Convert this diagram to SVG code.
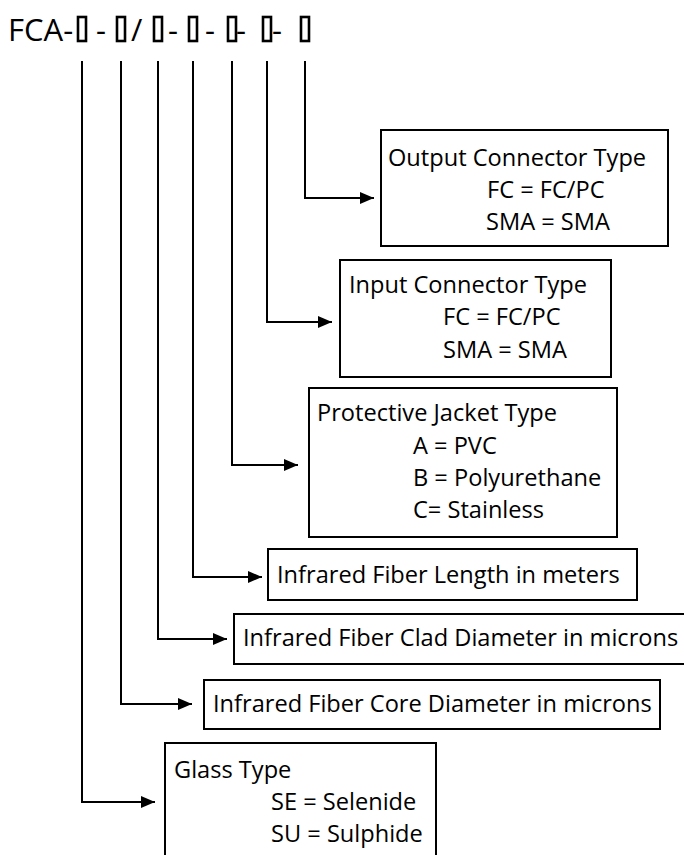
<svg xmlns="http://www.w3.org/2000/svg" width="684" height="855" viewBox="0 0 684 855">
<style>
text{font-family:"Open Sans","Noto Sans","Liberation Sans",sans-serif;fill:#000}
.t{font-size:23.6px}
.h{font-size:31px}
.box{fill:#fff;stroke:#000;stroke-width:2}
.tofu{fill:none;stroke:#000;stroke-width:2.6}
.con{fill:none;stroke:#000;stroke-width:2}
</style>
<defs>
<marker id="arr" markerUnits="userSpaceOnUse" markerWidth="16" markerHeight="14" refX="14" refY="7" orient="auto">
<path d="M0,1 L14,7 L0,13 Z" fill="#000"/>
</marker>
</defs>
<rect width="684" height="855" fill="#fff"/>
<g id="code">
<text class="h" x="8" y="41">FCA-</text>
<rect class="tofu" x="78" y="17" width="8" height="24"/>
<text class="h" x="96" y="41">-</text>
<rect class="tofu" x="117" y="17" width="8" height="24"/>
<text class="h" x="131" y="41">/</text>
<rect class="tofu" x="154" y="17" width="8" height="24"/>
<text class="h" x="168" y="41">-</text>
<rect class="tofu" x="189" y="17" width="8" height="24"/>
<text class="h" x="205" y="41">-</text>
<rect class="tofu" x="228" y="17" width="8" height="24"/>
<text class="h" x="236" y="41">-</text>
<rect class="tofu" x="263" y="17" width="8" height="24"/>
<text class="h" x="272" y="41">-</text>
<rect class="tofu" x="301" y="17" width="8" height="24"/>
</g>
<g id="connectors">
<path class="con" d="M305,61 V198 H374" marker-end="url(#arr)"/>
<path class="con" d="M267,61 V322 H332" marker-end="url(#arr)"/>
<path class="con" d="M232,61 V465 H298" marker-end="url(#arr)"/>
<path class="con" d="M193,61 V577 H262" marker-end="url(#arr)"/>
<path class="con" d="M158,61 V639 H227" marker-end="url(#arr)"/>
<path class="con" d="M121,61 V704 H192" marker-end="url(#arr)"/>
<path class="con" d="M82,61 V802 H155" marker-end="url(#arr)"/>
</g>
<g id="output">
<rect class="box" x="381" y="130" width="287" height="116"/>
<text class="t" x="388" y="166">Output Connector Type</text>
<text class="t" x="487" y="198">FC = FC/PC</text>
<text class="t" x="486" y="230">SMA = SMA</text>
</g>
<g id="input">
<rect class="box" x="340" y="260" width="271" height="117"/>
<text class="t" x="349" y="293">Input Connector Type</text>
<text class="t" x="443" y="325">FC = FC/PC</text>
<text class="t" x="443" y="358">SMA = SMA</text>
</g>
<g id="jacket">
<rect class="box" x="309" y="388" width="308" height="149"/>
<text class="t" x="317" y="421">Protective Jacket Type</text>
<text class="t" x="413" y="454">A = PVC</text>
<text class="t" x="413" y="486">B = Polyurethane</text>
<text class="t" x="413" y="518">C= Stainless</text>
</g>
<g id="length">
<rect class="box" x="268" y="549" width="369" height="51"/>
<text class="t" x="277" y="583">Infrared Fiber Length in meters</text>
</g>
<g id="clad">
<rect class="box" x="234" y="614" width="456" height="50"/>
<text class="t" x="243" y="646">Infrared Fiber Clad Diameter in microns</text>
</g>
<g id="core">
<rect class="box" x="204" y="680" width="456" height="49"/>
<text class="t" x="213" y="712">Infrared Fiber Core Diameter in microns</text>
</g>
<g id="glass">
<rect class="box" x="165" y="743" width="271" height="120"/>
<text class="t" x="174" y="778">Glass Type</text>
<text class="t" x="271" y="810">SE = Selenide</text>
<text class="t" x="271" y="842">SU = Sulphide</text>
</g>
</svg>
